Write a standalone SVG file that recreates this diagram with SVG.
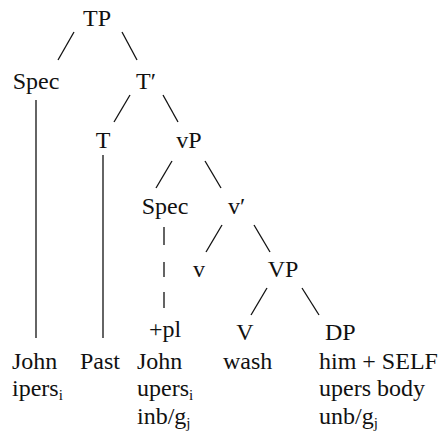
<svg xmlns="http://www.w3.org/2000/svg" width="440" height="438" viewBox="0 0 440 438">
<style>
text{font-family:"Liberation Serif","DejaVu Serif",serif;font-size:24px;fill:#111}
.m{text-anchor:middle}
.sub{font-size:15px}
#connectors line,#connectors path{stroke:#111;stroke-width:1.3;fill:none}
</style>
<rect width="440" height="438" fill="#fff"/>
<g id="connectors">
<line x1="74" y1="32" x2="58" y2="60"/>
<line x1="122" y1="32" x2="137" y2="60"/>
<line x1="36" y1="100" x2="36" y2="338"/>
<line x1="130" y1="95" x2="114" y2="122"/>
<line x1="163" y1="95" x2="178" y2="122"/>
<line x1="103" y1="155" x2="103" y2="338"/>
<line x1="172" y1="161" x2="156" y2="188"/>
<line x1="205" y1="161" x2="221" y2="188"/>
<path d="M164 227V245M164 262V277M164 292V308"/>
<line x1="222" y1="225" x2="206" y2="252"/>
<line x1="254" y1="225" x2="270" y2="252"/>
<line x1="267" y1="288" x2="251" y2="315"/>
<line x1="302" y1="288" x2="319" y2="315"/>
</g>
<g id="TP"><text class="m" x="97" y="26">TP</text></g>
<g id="Spec1"><text class="m" x="36" y="89">Spec</text></g>
<g id="Tbar"><text x="136" y="89">T′</text></g>
<g id="T"><text class="m" x="103" y="148">T</text></g>
<g id="vP"><text class="m" x="189" y="148">vP</text></g>
<g id="Spec2"><text class="m" x="165" y="214">Spec</text></g>
<g id="vbar"><text x="228" y="214">v′</text></g>
<g id="v"><text class="m" x="199" y="277">v</text></g>
<g id="VP"><text class="m" x="283" y="277">VP</text></g>
<g id="pl"><text class="m" x="165" y="337">+pl</text></g>
<g id="V"><text class="m" x="245" y="340">V</text></g>
<g id="DP"><text x="325" y="340">DP</text></g>
<g id="John1">
<text x="12" y="369">John</text>
<text x="12" y="396">ipers<tspan class="sub" dy="4">i</tspan></text>
</g>
<g id="Past"><text x="80" y="369">Past</text></g>
<g id="John2">
<text x="137" y="369">John</text>
<text x="137" y="396">upers<tspan class="sub" dy="4">i</tspan></text>
<text x="137" y="424">inb/g<tspan class="sub" dy="4">j</tspan></text>
</g>
<g id="wash"><text x="223" y="369">wash</text></g>
<g id="himself">
<text x="319" y="369">him + SELF</text>
<text x="319" y="396">upers  body</text>
<text x="319" y="424">unb/g<tspan class="sub" dy="4">j</tspan></text>
</g>
</svg>
